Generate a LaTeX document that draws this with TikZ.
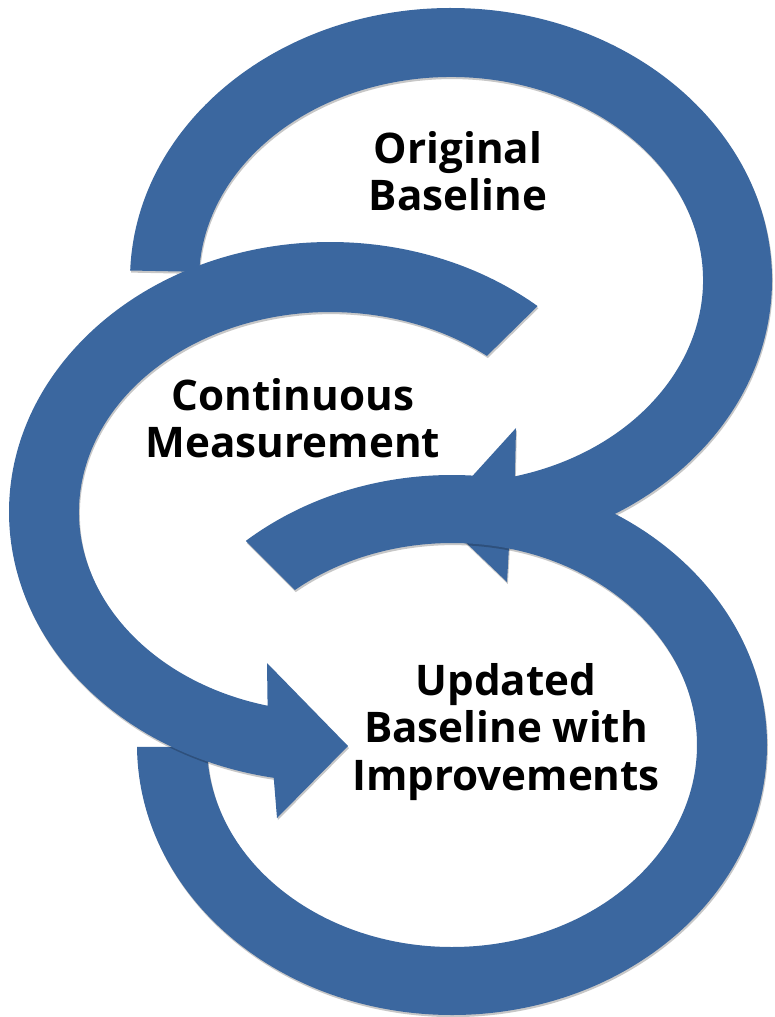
\documentclass[tikz,border=0pt]{standalone}
\usepackage{fontspec}
\setmainfont{Open Sans}
\usetikzlibrary{calc,shadows}

\definecolor{arrowblue}{RGB}{59,103,159}

\begin{document}
\begin{tikzpicture}[x=0.02cm, y=-0.02cm,
    ring/.style={fill=arrowblue, drop shadow={shadow xshift=0.5pt, shadow yshift=-1.2pt, opacity=0.22, fill=black}},
    caption/.style={align=center, inner sep=0pt, font=\fontsize{24}{27}\selectfont\bfseries}]
    \useasboundingbox (0,0) rectangle (774,1017);
    \coordinate (ctop) at (451,280);
    \coordinate (cmid) at (330,512);
    \coordinate (cbot) at (452,745);
    % top ring, clockwise
    \fill[ring] (ctop) ++(182:321 and 272) arc[start angle=182, end angle=439.6, x radius=321, y radius=272]
        -- (507,582) -- (437,515) -- (516,428)
        -- ($(ctop)+(435.3:252 and 203)$) arc[start angle=435.3, end angle=182.3, x radius=252, y radius=203] -- cycle;
    % bottom ring, no head
    \fill[ring] (cbot) ++(229.1:315 and 270) arc[start angle=229.1, end angle=539.6, x radius=315, y radius=270]
        -- ($(cbot)+(539.5:245 and 202)$) arc[start angle=539.5, end angle=230.1, x radius=245, y radius=202] -- cycle;
    % middle ring, counter-clockwise
    \fill[ring] (cmid) ++(-49.7:321 and 270) arc[start angle=-49.7, end angle=-259.9, x radius=321, y radius=270]
        -- (277,818) -- (348,746) -- (267,663)
        -- ($(cmid)+(-255.6:251 and 200)$) arc[start angle=-255.6, end angle=-51.3, x radius=251, y radius=200] -- cycle;
    \node[caption] (origbase) at (458,171) {Original\\Baseline};
    \node[caption] (contmeas) at (293,418) {Continuous\\Measurement};
    \node[caption] (updbase) at (506,732) {Updated\\Baseline with\\Improvements};
\end{tikzpicture}
\end{document}
